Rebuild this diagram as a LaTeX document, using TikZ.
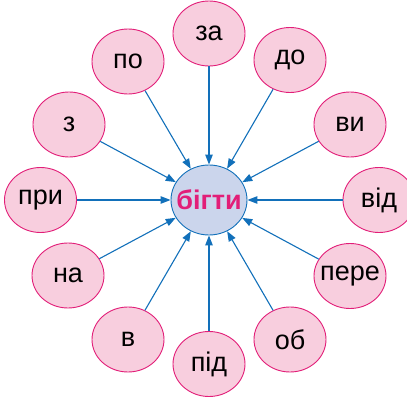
\documentclass[tikz,border=0pt]{standalone}
\usepackage{fontspec}
\setmainfont{Liberation Sans}
\usetikzlibrary{shapes.geometric,arrows.meta}

\definecolor{rimpink}{RGB}{226,30,120}
\definecolor{fillpink}{RGB}{248,206,222}
\definecolor{fillblue}{RGB}{203,213,236}
\definecolor{arrblue}{RGB}{18,112,186}

\newcommand{\wrd}[1]{\makebox[0pt]{#1}}

\tikzset{
  pfx/.style={shape=ellipse,draw=rimpink,fill=fillpink,line width=0.9pt,
    minimum width=72pt,minimum height=65pt,inner sep=0pt,font=\fontsize{27}{29}\selectfont},
  stem/.style={shape=ellipse,draw=arrblue,fill=fillblue,line width=0.9pt,
    minimum width=76pt,minimum height=70pt,inner sep=0pt,
    font=\fontsize{27}{29}\selectfont\bfseries,text=rimpink},
  arr/.style={draw=arrblue,line width=1.1pt,-{Triangle[length=10pt,width=7.5pt]}}
}

\begin{document}
\begin{tikzpicture}[x=1pt,y=1pt,yscale=-1,xscale=1]
\useasboundingbox (0,0) rectangle (407,398);

% Text Node
\node [stem] (bihty) at (209,200) {\wrd{бігти}};

% Text Node
\node [pfx] (za) at (209,33.5) {\wrd{за}};
% Text Node
\node [pfx] (do) at (290,60) {\wrd{до}};
% Text Node
\node [pfx] (vy) at (350,124.5) {\wrd{ви}};
% Text Node
\node [pfx] (vid) at (379,200) {\wrd{від}};
% Text Node
\node [pfx] (pere) at (350,276) {\wrd{пере}};
% Text Node
\node [pfx] (ob) at (290,339.5) {\wrd{об}};
% Text Node
\node [pfx] (pid) at (209,364) {\wrd{під}};
% Text Node
\node [pfx] (v) at (128,339.5) {\wrd{в}};
% Text Node
\node [pfx] (na) at (68,275.5) {\wrd{на}};
% Text Node
\node [pfx] (pry) at (40.5,200) {\wrd{при}};
% Text Node
\node [pfx] (z) at (69,124.5) {\wrd{з}};
% Text Node
\node [pfx] (po) at (128,61.5) {\wrd{по}};

%Straight Lines
\draw [arr] (za) -- (bihty);
\draw [arr] (do) -- (bihty);
\draw [arr] (vy) -- (bihty);
\draw [arr] (vid) -- (bihty);
\draw [arr] (pere) -- (bihty);
\draw [arr] (ob) -- (bihty);
\draw [arr] (pid) -- (bihty);
\draw [arr] (v) -- (bihty);
\draw [arr] (na) -- (bihty);
\draw [arr] (pry) -- (bihty);
\draw [arr] (z) -- (bihty);
\draw [arr] (po) -- (bihty);

\end{tikzpicture}
\end{document}
